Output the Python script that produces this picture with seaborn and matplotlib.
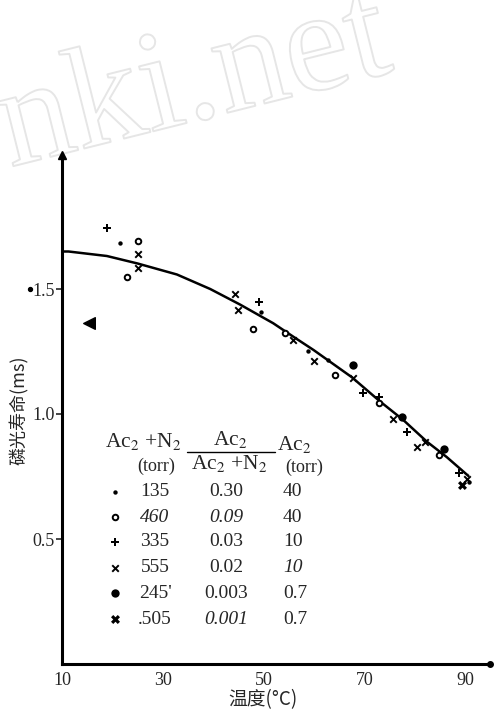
import matplotlib
matplotlib.use("Agg")
import matplotlib.pyplot as plt
import matplotlib.patheffects as pe
import pandas as pd
import seaborn as sns

# data (temperature in C, lifetime in ms)
s135_x = [21.5, 49.5, 58.7, 62.8, 90.8]
s135_y = [1.683, 1.409, 1.252, 1.216, 0.729]
s460_x = [22.8, 25.0, 47.8, 54.2, 64.2, 72.8, 84.7]
s460_y = [1.549, 1.693, 1.339, 1.325, 1.156, 1.043, 0.836]
s335_x = [18.9, 49.1, 69.8, 72.8, 78.4, 88.8]
s335_y = [1.745, 1.449, 1.083, 1.067, 0.929, 0.763]
s555_x = [25.0, 25.0, 44.3, 45.0, 55.9, 59.9, 67.8, 75.7, 80.4, 82.0, 90.4]
s555_y = [1.640, 1.583, 1.479, 1.416, 1.296, 1.213, 1.143, 0.979, 0.867, 0.889, 0.739]
s245_x = [67.8, 77.4, 85.7]
s245_y = [1.196, 0.989, 0.860]
s505_x = [89.4]
s505_y = [0.716]

curve_x = [10.0, 11.3, 18.9, 25.0, 32.8, 39.4, 45.3, 51.9, 55.9, 59.9, 67.5, 73.1, 77.7, 82.4, 86.3, 90.6, 90.6]
curve_y = [1.650, 1.650, 1.632, 1.602, 1.558, 1.500, 1.438, 1.363, 1.309, 1.256, 1.147, 1.050, 0.976, 0.889, 0.828, 0.765, 0.740]

# stray marks on the scan
stray_tri = (15.4, 1.365)
stray_dot = (3.7, 1.50)

x_ticks = [10, 30, 50, 70, 90]
y_ticks = [0.5, 1.0, 1.5]

legend_n2 = ["135", "460", "335", "555", "245'", ".505"]
legend_frac = ["0.30", "0.09", "0.03", "0.02", "0.003", "0.001"]
legend_ac = ["40", "40", "10", "10", "0.7", "0.7"]
legend_italic = [(1, 0), (1, 1), (3, 2), (5, 1)]

sns.set_theme(style="white")
plt.rcParams["font.family"] = ["Liberation Serif", "DejaVu Serif"]
plt.rcParams["mathtext.fontset"] = "stix"

W, H = 494, 715
fig = plt.figure(figsize=(W / 100, H / 100), dpi=100)
ax = fig.add_axes([62 / W, 1 - 664 / H, 428 / W, 509 / H])
ax.set_xlim(10, 94.9)
ax.set_ylim(0, 2.036)


def px(x, y):
    return x / W, 1 - y / H


# watermark (outline only, behind everything)
fig.text(*px(-14, 166), "nki.net", fontsize=104, rotation=14, color=(1, 1, 1, 0),
         family="Liberation Serif", ha="left", va="baseline", zorder=-5,
         path_effects=[pe.withStroke(linewidth=1.4, foreground="#e6e6e6")])

curve = pd.DataFrame({"t": curve_x, "tau": curve_y})
sns.lineplot(data=curve, x="t", y="tau", sort=False, color="black", linewidth=1.8, ax=ax)

series = [
    (s135_x, s135_y, dict(marker="o", s=10, color="black", linewidth=0)),
    (s460_x, s460_y, dict(marker="o", s=16, color="white", edgecolor="black", linewidth=1.4)),
    (s335_x, s335_y, dict(marker="P", s=26, color="black", linewidth=0)),
    (s555_x, s555_y, dict(marker="x", s=22, color="black", linewidth=1.4)),
    (s245_x, s245_y, dict(marker="o", s=36, color="black", linewidth=0)),
    (s505_x, s505_y, dict(marker="X", s=42, color="black", linewidth=0)),
]
for xs, ys, kw in series:
    sns.scatterplot(x=xs, y=ys, ax=ax, zorder=3, legend=False, **kw)

ax.scatter([stray_tri[0]], [stray_tri[1]], marker="<", s=70, color="black", zorder=3)
ax.scatter([stray_dot[0]], [stray_dot[1]], marker="o", s=8, color="black", clip_on=False)

# axes styling
ax.patch.set_alpha(0)
for side in ["top", "right"]:
    ax.spines[side].set_visible(False)
for side in ["left", "bottom"]:
    ax.spines[side].set_linewidth(2.2)
    ax.spines[side].set_color("black")
ax.plot([0], [1], marker="^", markersize=6, color="black", transform=ax.transAxes, clip_on=False)
ax.plot([1], [0], marker="o", markersize=4, color="black", transform=ax.transAxes, clip_on=False)

ax.set_xticks(x_ticks)
ax.set_xticklabels([str(v) for v in x_ticks], fontsize=13)
ax.set_yticks(y_ticks)
ax.set_yticklabels([f"{v:.1f}" for v in y_ticks], fontsize=13)
ax.tick_params(axis="y", length=4, width=1.2, direction="out", pad=1, left=True)
ax.tick_params(axis="x", length=0, pad=6)
ax.set_xlabel("")
ax.set_ylabel("")

cjk = ["Noto Sans CJK SC", "DejaVu Sans"]
fig.text(*px(263, 700), "温度(°C)", fontsize=13.5, family=cjk, ha="center", va="center")
fig.text(*px(19, 410), "磷光寿命(ms)", fontsize=13, rotation=90, family=cjk,
         ha="center", va="center")

# legend table
hdr = 15.5
fig.text(*px(143, 442), r"Ac$_2$ +N$_2$", fontsize=hdr, ha="center", va="center")
fig.text(*px(156, 466), "(torr)", fontsize=13, ha="center", va="center")
fig.text(*px(230, 440), r"Ac$_2$", fontsize=hdr, ha="center", va="center")
fig.add_artist(plt.Line2D([187 / W, 275 / W], [1 - 452 / H, 1 - 452 / H], color="black", linewidth=1.0))
fig.text(*px(229, 464), r"Ac$_2$ +N$_2$", fontsize=hdr, ha="center", va="center")
fig.text(*px(294, 444), r"Ac$_2$", fontsize=hdr, ha="center", va="center")
fig.text(*px(304, 467), "(torr)", fontsize=13, ha="center", va="center")

row_y = [492, 517, 542, 568, 593, 619]
leg_kw = [kw for _, _, kw in series]
for i, y in enumerate(row_y):
    mx, my = px(115, y)
    ax.scatter([mx], [my], transform=fig.transFigure, clip_on=False, zorder=4, **leg_kw[i])
    styles = ["normal", "normal", "normal"]
    for r, c in legend_italic:
        if r == i:
            styles[c] = "italic"
    fig.text(*px(155, y), legend_n2[i], fontsize=14, ha="center", va="center", style=styles[0])
    fig.text(*px(226, y), legend_frac[i], fontsize=14, ha="center", va="center", style=styles[1])
    fig.text(*px(283, y), legend_ac[i], fontsize=14, ha="left", va="center", style=styles[2])

fig.savefig("out.png", dpi=100)
